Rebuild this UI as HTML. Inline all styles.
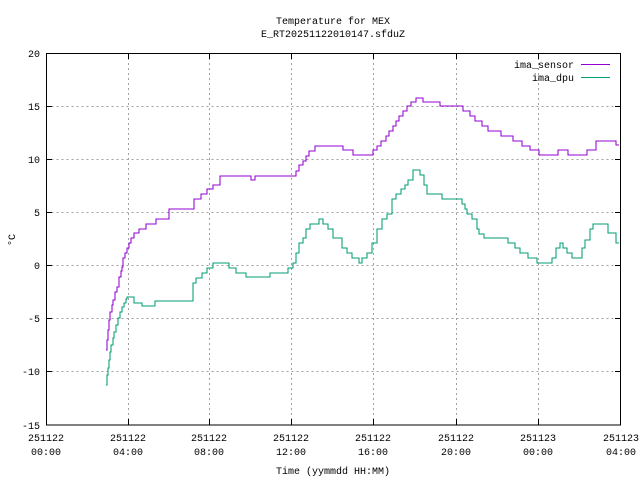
<!DOCTYPE html>
<html><head><meta charset="utf-8"><style>
body{margin:0;background:#fff}
text{font-family:"Liberation Mono","DejaVu Sans Mono",monospace;font-size:10px;fill:#000}
</style></head><body>
<svg width="640" height="480" xmlns="http://www.w3.org/2000/svg">
<rect width="640" height="480" fill="#fff"/>
<g stroke="#a0a0a0" stroke-dasharray="2,3" stroke-width="1">
<path d="M46.5 106.5H621M46.5 159.5H621M46.5 212.5H621M46.5 265.5H621M46.5 318.5H621M46.5 371.5H621M46.5 53.5H621"/>
<path d="M128.5 53V425M209.5 53V425M291.5 53V425M373.5 53V425M456.5 53V425M538.5 53V425"/>
</g>
<g stroke="#000" stroke-width="1" fill="none">
<rect x="46.5" y="53.5" width="574" height="371.5"/>
<path d="M46 53.5h6M46 106.5h6M46 159.5h6M46 212.5h6M46 265.5h6M46 318.5h6M46 371.5h6M621 53.5h-6M621 106.5h-6M621 159.5h-6M621 212.5h-6M621 265.5h-6M621 318.5h-6M621 371.5h-6"/>
<path d="M128.5 425v-6M209.5 425v-6M291.5 425v-6M373.5 425v-6M456.5 425v-6M538.5 425v-6M128.5 53v6M209.5 53v6M291.5 53v6M373.5 53v6M456.5 53v6M538.5 53v6"/>
</g>
<g text-anchor="end">
<text x="40" y="57">20</text><text x="40" y="110">15</text><text x="40" y="163">10</text>
<text x="40" y="216">5</text><text x="40" y="269">0</text><text x="40" y="322">-5</text>
<text x="40" y="375">-10</text><text x="40" y="429">-15</text>
</g>
<g text-anchor="middle">
<text x="46" y="441">251122</text><text x="46" y="455">00:00</text>
<text x="128" y="441">251122</text><text x="128" y="455">04:00</text>
<text x="209" y="441">251122</text><text x="209" y="455">08:00</text>
<text x="291" y="441">251122</text><text x="291" y="455">12:00</text>
<text x="373" y="441">251122</text><text x="373" y="455">16:00</text>
<text x="456" y="441">251122</text><text x="456" y="455">20:00</text>
<text x="538" y="441">251123</text><text x="538" y="455">00:00</text>
<text x="621" y="441">251123</text><text x="621" y="455">04:00</text>
<text x="333" y="474">Time (yymmdd HH:MM)</text>
<text x="333" y="24">Temperature for MEX</text>
<text x="333" y="37">E_RT20251122010147.sfduZ</text>
<text transform="translate(15,240) rotate(-90)">°C</text>
</g>
<text x="574" y="68" text-anchor="end">ima_sensor</text>
<text x="574" y="81" text-anchor="end">ima_dpu</text>
<path d="M581 64.5H610" stroke="#9400d3" stroke-width="1"/>
<path d="M581 77.5H610" stroke="#009e73" stroke-width="1"/>
<path id="s1" fill="none" stroke="#9400d3" stroke-width="1.05"/>
<path id="s2" fill="none" stroke="#009e73" stroke-width="1.05"/>
</svg>
<script>
function step(id,s){var p=s.trim().split(/\s+/).map(function(t){return t.split(',').map(Number)});
var d='M'+p[0][0]+' '+p[0][1];for(var i=1;i<p.length;i++){d+='H'+p[i][0]+'V'+p[i][1];}
document.getElementById(id).setAttribute('d',d);}
step('s1',"106,350 107,340 108,330 109,320 110,312 112,305 113,300 115,292 117,287 119,277 121,271 122,267 123,262 123,258 125,253 127,248 129,243 131,238 134,233 139,229 146,224 156,219 169,214 169,209 193,209 194,199 201,194 207,189 213,185 220,180 220,176 251,176 251,180 255,180 255,176 295,176 296,171 299,165 303,161 306,156 309,151 315,146 342,146 343,150 353,150 353,155 373,155 373,150 377,146 381,141 386,136 389,131 393,126 396,121 399,116 403,111 407,106 411,102 416,98 423,98 423,102 440,102 440,106 462,106 463,111 470,116 475,121 482,126 488,131 501,136 513,141 522,146 530,150 539,155 558,155 558,150 568,150 568,155 586,155 587,150 596,141 615,141 616,145 619,145");
step('s2',"106,385 107,375 108,368 109,360 110,352 111,345 113,338 114,332 116,325 118,318 120,312 122,307 124,303 126,299 127,297 130,297 133,297 134,303 140,303 142,306 155,306 155,301 193,301 193,283 196,278 202,273 207,268 213,263 228,263 229,268 235,268 236,273 245,273 246,277 268,277 270,273 288,273 288,268 293,263 296,253 299,243 303,238 306,229 310,224 319,219 323,224 328,229 333,238 342,248 347,253 352,258 359,263 362,258 367,253 372,243 377,229 382,219 387,214 392,199 396,194 401,189 405,185 408,180 413,170 417,170 420,175 424,185 427,194 442,194 442,199 458,199 462,204 465,209 467,214 472,219 477,229 479,234 484,238 508,238 508,243 515,248 520,253 528,258 537,263 550,263 552,258 556,248 560,243 563,248 567,253 572,258 578,258 582,248 585,240 590,229 593,224 603,224 608,233 616,243 619,243");
</script>
</body></html>
